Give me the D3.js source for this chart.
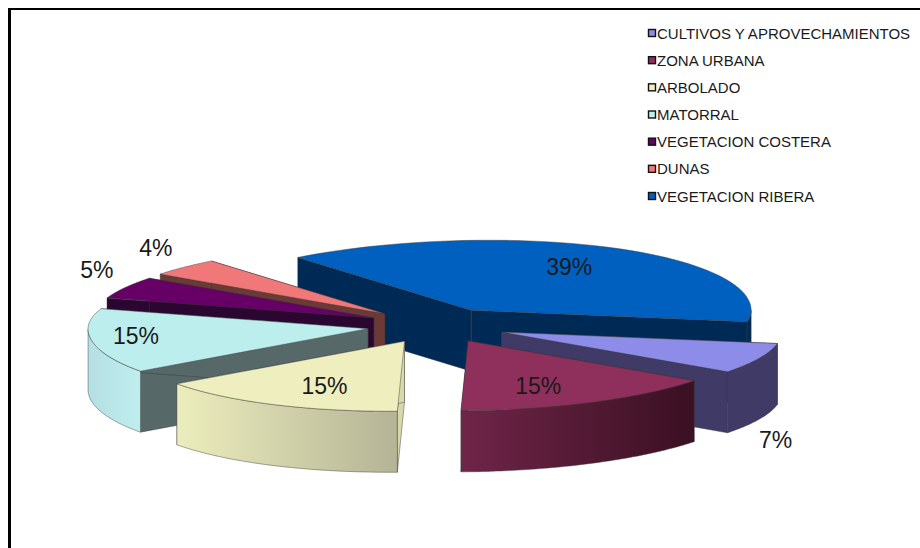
<!DOCTYPE html>
<html>
<head>
<meta charset="utf-8">
<script src="https://cdn.jsdelivr.net/npm/d3@7"></script>
<style>
  html, body { margin: 0; padding: 0; background: #fff; }
  svg { display: block; }
  text { font-family: "Liberation Sans", Arial, sans-serif; fill: #1a1a1a; }
</style>
</head>
<body>
<svg id="chart" width="920" height="548"></svg>
<script>
// Land use shares, in legend order
const categories = ["CULTIVOS Y APROVECHAMIENTOS", "ZONA URBANA", "ARBOLADO", "MATORRAL",
                    "VEGETACION COSTERA", "DUNAS", "VEGETACION RIBERA"];
const shares = [7, 15, 15, 15, 5, 4, 39];

// Face colours per slice
const topColors   = ["#8d8ce8", "#8f2f5c", "#eeeebe", "#bceeee", "#660066", "#f07878", "#0060c0"];
const wallColors  = ["#3f3b66", "#4a1830", "#d8d8ac", "#566868", "#2a0630", "#6b3a36", "#002a56"];
const bandLeft    = ["#3f3b66", "#6f2548", "#ecedbc", "#b4dfe3", "#2a0630", "#6b3a36", "#002a56"];
const bandRight   = ["#3f3b66", "#3a1022", "#b4b496", "#bfeeee", "#2a0630", "#6b3a36", "#002a56"];
// Where each percentage sits, relative to the slice tip
const labelOffsets = [[274, 108], [70, 45], [-80, 45], [-232, 7], [-277, -48], [-229, -66], [98, -43]];

// Layout of the tilted pie
const center = { x: 437, y: 325.5 };
const radiusX = 280, radiusY = 70, depth = 61, explode = 0.25;
const frontSkew = 14 / (radiusY * radiusY);
const backSkew = 10 / (52 * 52);
const tipSkew = 0.009;
const firstAngle = 99.4 * Math.PI / 180;

const svg = d3.select("#chart");
const defs = svg.append("defs");

// Frame around the chart area
svg.append("path")
  .attr("d", d3.line()([[9.5, 548], [9.5, 8]]))
  .attr("fill", "none").attr("stroke", "#000").attr("stroke-width", 3);
svg.append("path")
  .attr("d", d3.line()([[8, 9], [920, 9]]))
  .attr("fill", "none").attr("stroke", "#000").attr("stroke-width", 2);

const scaleX = d3.scaleLinear().domain([-1, 1]).range([-radiusX, radiusX]);
const scaleY = d3.scaleLinear().domain([-1, 1]).range([-radiusY, radiusY]);

const arcs = d3.pie().sort(null).value(d => d)
  .startAngle(firstAngle).endAngle(firstAngle + 2 * Math.PI)(shares);

// Offset of a rim point from the slice tip; perspective leans the front left and the back right
function rim(angle) {
  const dx = scaleX(Math.sin(angle));
  const dy = scaleY(-Math.cos(angle));
  const lean = dy > 0 ? -frontSkew * dy * dy : backSkew * dy * dy;
  return [dx + lean, dy];
}

const line = d3.line();
const edge = { stroke: "#3a3a3a", "stroke-width": 0.6, "stroke-opacity": 0.75, "stroke-linejoin": "round" };
function face(g, points, fill) {
  const p = g.append("path").attr("d", line(points) + "Z").attr("fill", fill);
  Object.entries(edge).forEach(([k, v]) => p.attr(k, v));
  return p;
}

const slices = arcs.map((a, i) => {
  const mid = (a.startAngle + a.endAngle) / 2;
  const shiftY = scaleY(-Math.cos(mid)) * explode;
  const lean = shiftY > 0 ? -tipSkew * shiftY * shiftY : 0;
  return {
    i, a, mid,
    tip: [center.x + scaleX(Math.sin(mid)) * explode + lean, center.y + shiftY]
  };
});

// Paint back to front so nearer slices cover farther ones
slices.slice().sort((p, q) => d3.descending(Math.cos(p.mid), Math.cos(q.mid))).forEach(s => {
  const { i, a, tip } = s;
  const g = svg.append("g").attr("class", "slice");
  const at = (angle, drop = 0) => {
    const [dx, dy] = rim(angle);
    return [tip[0] + dx, tip[1] + dy + drop];
  };
  const steps = d3.range(0, 61).map(k => a.startAngle + (a.endAngle - a.startAngle) * k / 60);
  const tipLow = [tip[0], tip[1] + depth];

  // Radial walls
  [a.startAngle, a.endAngle].forEach(angle => {
    face(g, [tip, at(angle), at(angle, depth), tipLow], wallColors[i]);
  });

  // Outer rim, only the part that faces the viewer
  const lo = Math.PI / 2, hi = 3 * Math.PI / 2;
  const front = [];
  steps.forEach(t => {
    const wrapped = t % (2 * Math.PI);
    if (wrapped >= lo && wrapped <= hi) front.push(t);
  });
  if (front.length > 1) {
    const upper = front.map(t => at(t));
    const lower = front.map(t => at(t, depth)).reverse();
    const xs = d3.extent(upper, d => d[0]);
    const id = "rim" + i;
    const grad = defs.append("linearGradient").attr("id", id)
      .attr("gradientUnits", "userSpaceOnUse")
      .attr("x1", xs[0]).attr("x2", xs[1]).attr("y1", 0).attr("y2", 0);
    grad.append("stop").attr("offset", "0%").attr("stop-color", bandLeft[i]);
    grad.append("stop").attr("offset", "100%").attr("stop-color", bandRight[i]);
    face(g, upper.concat(lower), `url(#${id})`);
  }

  // Top surface
  face(g, [tip].concat(steps.map(t => at(t))), topColors[i]);
});

// Percentage labels
slices.forEach(s => {
  svg.append("text")
    .attr("x", s.tip[0] + labelOffsets[s.i][0])
    .attr("y", s.tip[1] + labelOffsets[s.i][1])
    .attr("text-anchor", "middle").attr("dominant-baseline", "central")
    .attr("font-size", 23)
    .text(d3.format(".0f")(shares[s.i]) + "%");
});

// Legend
const legendY = d3.scalePoint().domain(categories).range([33, 196]);
const legend = svg.append("g").selectAll("g").data(categories).join("g")
  .attr("transform", d => `translate(648,${legendY(d)})`);
legend.append("rect")
  .attr("x", 0.5).attr("y", -3.5).attr("width", 7).attr("height", 7)
  .attr("fill", (d, i) => topColors[i]).attr("stroke", "#111").attr("stroke-width", 1.4);
legend.append("text")
  .attr("x", 9).attr("y", 0).attr("dominant-baseline", "central")
  .attr("font-size", 15)
  .text(d => d);
</script>
</body>
</html>
